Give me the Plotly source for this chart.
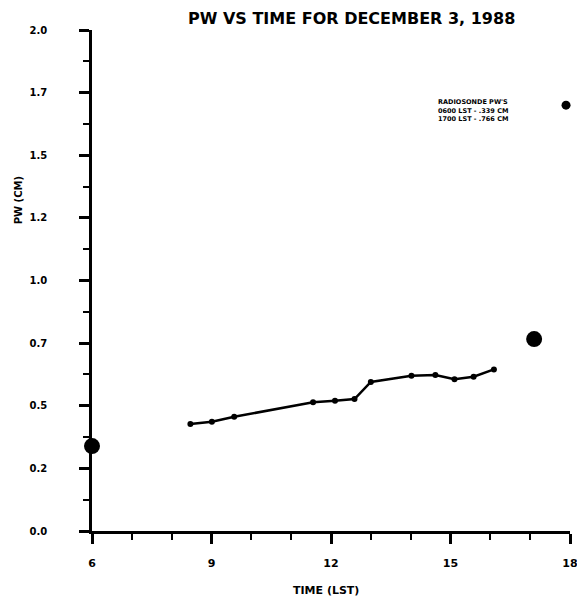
import plotly.graph_objects as go

# Hourly PW line data
time_lst = [8.47, 9.01, 9.57, 11.55, 12.10, 12.59, 13.00, 14.02, 14.62, 15.10, 15.58, 16.09]
pw_cm = [0.427, 0.436, 0.456, 0.514, 0.520, 0.527, 0.595, 0.620, 0.623, 0.606, 0.616, 0.645]

# Radiosonde PW values
sonde_time = [6.0, 17.1]
sonde_pw = [0.339, 0.766]

# Stray marker near the legend
extra_time = [17.9]
extra_pw = [1.70]

y_tickvals = [0, 0.25, 0.5, 0.75, 1.0, 1.25, 1.5, 1.75, 2.0]
y_ticktext = ["0.0", "0.2", "0.5", "0.7", "1.0", "1.2", "1.5", "1.7", "2.0"]
x_tickvals = [6, 9, 12, 15, 18]
x_ticktext = ["6", "9", "12", "15", "18"]

title_text = "PW VS TIME FOR DECEMBER 3, 1988"
legend_lines = ["RADIOSONDE PW'S", "0600 LST - .339 CM", "1700 LST - .766 CM"]

# page body has an 8px default margin; size the figure so the plot lands where the reference has it
OFF = 8
L, R, T, B = 92 - OFF, 7, 30 - OFF, 74
W, H = 585 - OFF, 605 - OFF
PW_ = W - L - R
PH_ = H - T - B

def px_x(x):
    return (x - OFF - L) / PW_

def px_y(y):
    return (H - B - (y - OFF)) / PH_

fig = go.Figure()
fig.add_trace(go.Scatter(
    x=time_lst, y=pw_cm, mode="lines+markers",
    line=dict(color="black", width=2.5),
    marker=dict(color="black", size=6),
    cliponaxis=False, showlegend=False))
fig.add_trace(go.Scatter(
    x=sonde_time, y=sonde_pw, mode="markers",
    marker=dict(color="black", size=16),
    cliponaxis=False, showlegend=False))
fig.add_trace(go.Scatter(
    x=extra_time, y=extra_pw, mode="markers",
    marker=dict(color="black", size=9),
    cliponaxis=False, showlegend=False))

font_b = dict(family="DejaVu Sans", color="black", weight="bold")

fig.update_layout(
    width=W, height=H,
    margin=dict(l=L, r=R, t=T, b=B),
    paper_bgcolor="white", plot_bgcolor="white",
    showlegend=False,
)
fig.update_xaxes(
    range=[6, 18], showgrid=False, zeroline=False,
    showline=True, linecolor="black", linewidth=2.5,
    ticks="outside", ticklen=10, tickwidth=2.5, tickcolor="black",
    tickvals=x_tickvals, ticktext=x_ticktext,
    tickfont=dict(size=11, **font_b), ticklabelstandoff=10,
    ticklabeloverflow="allow",
    minor=dict(dtick=1, ticks="outside", ticklen=6, tickwidth=2, tickcolor="black", showgrid=False),
)
fig.update_yaxes(
    range=[0, 2.0], showgrid=False, zeroline=False,
    showline=True, linecolor="black", linewidth=2.5,
    ticks="outside", ticklen=10, tickwidth=2.5, tickcolor="black",
    tickvals=y_tickvals, ticktext=y_ticktext,
    tickfont=dict(size=10, **font_b), ticklabelstandoff=30,
    minor=dict(dtick=0.125, tick0=0, ticks="outside", ticklen=6, tickwidth=2, tickcolor="black", showgrid=False),
)

fig.add_annotation(
    text=title_text, xref="paper", yref="paper",
    x=px_x(356), y=px_y(18), xanchor="center", yanchor="middle",
    showarrow=False, font=dict(size=16, **font_b))
fig.add_annotation(
    text="TIME (LST)", xref="paper", yref="paper",
    x=px_x(330), y=px_y(590), xanchor="center", yanchor="middle",
    showarrow=False, font=dict(size=11, **font_b))
fig.add_annotation(
    text="PW (CM)", xref="paper", yref="paper",
    x=px_x(17), y=px_y(200), xanchor="center", yanchor="middle",
    textangle=-90, showarrow=False, font=dict(size=10, **font_b))
for i, line in enumerate(legend_lines):
    fig.add_annotation(
        text=line, xref="paper", yref="paper",
        x=px_x(443), y=px_y(102 + 8.5 * i), xanchor="left", yanchor="middle",
        align="left", showarrow=False, borderpad=0,
        font=dict(size=6.5, **font_b))

fig.write_html("out.html")
